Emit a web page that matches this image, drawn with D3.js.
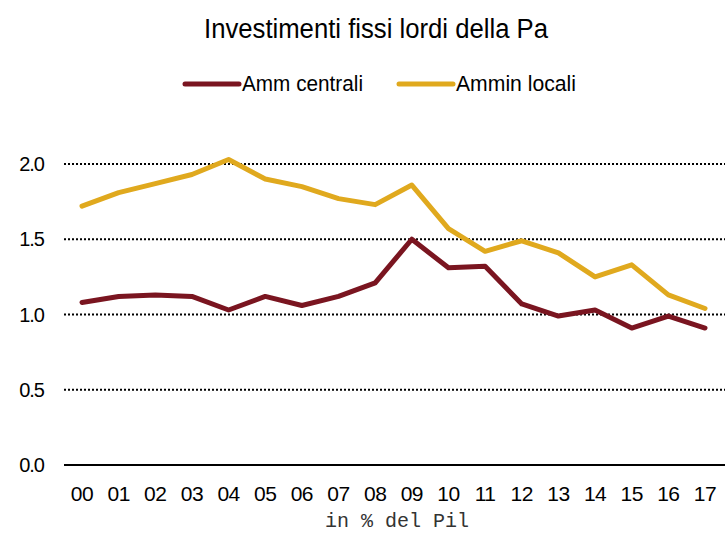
<!DOCTYPE html>
<html>
<head>
<meta charset="utf-8">
<script src="https://cdn.jsdelivr.net/npm/d3@7"></script>
<style>
  body { margin: 0; background: #fff; }
  svg { display: block; }
  text { font-family: "Liberation Sans", Arial, sans-serif; fill: #000; }
</style>
</head>
<body>
<div id="chart"></div>
<script>
// data
const years = ["00","01","02","03","04","05","06","07","08","09","10","11","12","13","14","15","16","17"];
const centrali = [1.08,1.12,1.13,1.12,1.03,1.12,1.06,1.12,1.21,1.50,1.31,1.32,1.07,0.99,1.03,0.91,0.99,0.91];
const locali = [1.72,1.81,1.87,1.93,2.03,1.90,1.85,1.77,1.73,1.86,1.57,1.42,1.49,1.41,1.25,1.33,1.13,1.04];
const yTicks = [0, 0.5, 1.0, 1.5, 2.0];

const W = 725, H = 535;
const svg = d3.select("#chart").append("svg")
  .attr("width", W)
  .attr("height", H);

const x = d3.scalePoint()
  .domain(years)
  .range([82, 705]);
const y = d3.scaleLinear()
  .domain([0, 2])
  .range([465, 164]);

// title
svg.append("text")
  .attr("x", 376)
  .attr("y", 38)
  .attr("text-anchor", "middle")
  .attr("font-size", 27)
  .attr("textLength", 344)
  .attr("lengthAdjust", "spacingAndGlyphs")
  .text("Investimenti fissi lordi della Pa");

// legend
const legend = [
  { name: "Amm centrali", color: "#7a1520", x: 185, w: 121 },
  { name: "Ammin locali", color: "#e0a91e", x: 399, w: 120 }
];
legend.forEach(d => {
  svg.append("line")
    .attr("x1", d.x).attr("x2", d.x + 54)
    .attr("y1", 84).attr("y2", 84)
    .attr("stroke", d.color)
    .attr("stroke-width", 5)
    .attr("stroke-linecap", "round");
  svg.append("text")
    .attr("x", d.x + 57)
    .attr("y", 91)
    .attr("font-size", 22)
    .attr("textLength", d.w)
    .attr("lengthAdjust", "spacingAndGlyphs")
    .text(d.name);
});

// gridlines
svg.selectAll("line.grid")
  .data(yTicks.filter(v => v > 0))
  .enter()
  .append("line")
  .attr("class", "grid")
  .attr("x1", 64).attr("x2", W)
  .attr("y1", d => y(d)).attr("y2", d => y(d))
  .attr("stroke", "#000")
  .attr("stroke-width", 2)
  .attr("stroke-dasharray", "2,2");

// baseline
svg.append("line")
  .attr("x1", 64).attr("x2", W)
  .attr("y1", y(0)).attr("y2", y(0))
  .attr("stroke", "#000")
  .attr("stroke-width", 2);

// y labels
svg.selectAll("text.ylab")
  .data(yTicks)
  .enter()
  .append("text")
  .attr("class", "ylab")
  .attr("x", 44)
  .attr("y", d => y(d) + 7)
  .attr("text-anchor", "end")
  .attr("font-size", 20)
  .attr("letter-spacing", -1)
  .text(d => d.toFixed(1));

// x labels
svg.selectAll("text.xlab")
  .data(years)
  .enter()
  .append("text")
  .attr("class", "xlab")
  .attr("x", d => x(d))
  .attr("y", 501)
  .attr("text-anchor", "middle")
  .attr("font-size", 21)
  .attr("letter-spacing", -0.5)
  .text(d => d);

// axis note
svg.append("text")
  .attr("x", 397)
  .attr("y", 527)
  .attr("text-anchor", "middle")
  .attr("font-size", 20)
  .style("font-family", "'Courier New', 'Liberation Mono', monospace")
  .style("fill", "#333")
  .text("in % del Pil");

// lines
const line = d3.line()
  .x((d, i) => x(years[i]))
  .y(d => y(d));

svg.append("path")
  .datum(locali)
  .attr("d", line)
  .attr("fill", "none")
  .attr("stroke", "#e0a91e")
  .attr("stroke-width", 5)
  .attr("stroke-linecap", "round")
  .attr("stroke-linejoin", "round");

svg.append("path")
  .datum(centrali)
  .attr("d", line)
  .attr("fill", "none")
  .attr("stroke", "#7a1520")
  .attr("stroke-width", 5)
  .attr("stroke-linecap", "round")
  .attr("stroke-linejoin", "round");
</script>
</body>
</html>
